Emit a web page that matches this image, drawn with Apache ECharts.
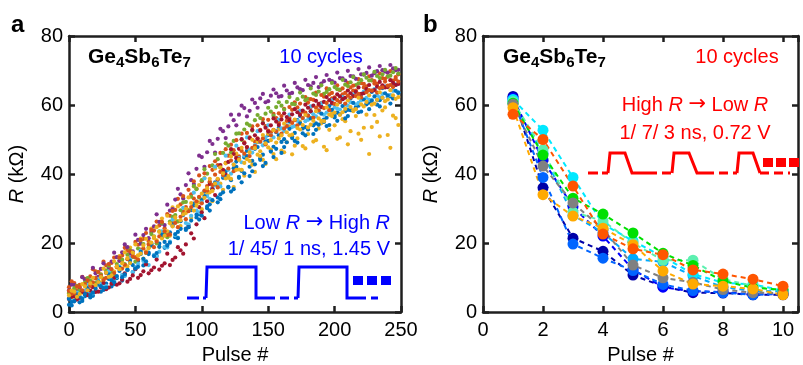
<!DOCTYPE html>
<html>
<head>
<meta charset="utf-8">
<script src="https://cdn.jsdelivr.net/npm/echarts@6.0.0/dist/echarts.min.js"></script>
<style>html,body{margin:0;padding:0;background:#fff;}#c{width:803px;height:365px;}</style>
</head>
<body>
<div id="c"></div>
<script>
// ---------- Panel a: Low R -> High R, 10 cycles ----------
// set "a" = pulses 0,4,8,...,248 ; set "b" = pulses 2,6,10,...,246
const pulseStepA = 4;
const cycleColorsA = ['#0072BD','#D95319','#EDB120','#7E2F8E','#77AC30','#4DBEEE','#A2142F','#0072BD','#D95319','#EDB120'];
const cycA1 = [2.1,3.4,2.8,4.6,4.2,6.1,5.9,8.2,7.4,9.8,9.1,12.3,11.6,14.8,13.5,17.2,16.4,19.8,18.6,23.1,21.7,26.3,24.2,29.5,27.4,32.6,30.1,35.8,33.2,38.9,36.1,41.7,39.2,44.8,42.1,47.3,44.6,49.5,46.8,52.1,49.3,53.8,50.9,55.6,53.2,56.9,54.1,58.4,55.8,59.7,56.9,60.8,58.2,61.9,59.4,63.1,60.2,63.8,61.5,64.9,62.3,65.4,63.6];
const cycA1b = [1.9,4.1,3.2,5.8,4.7,7.9,6.4,9.6,8.1,11.9,10.6,14.2,12.9,16.8,14.1,19.3,16.2,21.7,19.4,24.9,23.2,28.6,25.1,31.4,28.3,34.9,31.2,37.6,34.1,40.8,38.2,43.6,40.9,46.7,43.8,49.2,45.6,51.3,47.9,53.4,50.1,55.2,51.9,56.8,53.6,58.1,54.7,59.6,56.3,60.4,57.8,61.7,58.6,62.9,59.8,63.6,60.7,64.5,61.4,65.3,62.5,65.9];
const cycA2 = [7.2,8.4,7.9,9.6,10.3,11.8,10.9,13.5,14.2,13.1,16.4,17.8,16.9,19.5,21.2,20.4,23.6,25.1,24.3,27.9,29.6,31.2,30.4,34.1,35.8,37.9,36.5,41.2,42.6,40.8,45.3,46.9,45.1,49.2,50.6,49.4,52.8,53.9,52.1,56.2,56.8,55.4,58.6,59.3,58.1,60.7,61.5,59.9,62.4,63.1,62.2,64.3,63.5,65.1,64.2,66.3,65.4,67.2,66.1,67.8,68.3,67.1,68.9];
const cycA2b = [8.9,6.8,10.2,8.7,12.4,10.1,14.6,12.2,15.8,14.9,18.6,15.7,20.3,18.1,22.9,19.8,26.2,22.7,28.4,26.3,32.8,29.1,35.4,32.9,39.6,35.2,42.3,39.8,46.1,43.2,48.5,44.9,51.7,47.6,53.8,50.3,55.9,52.6,57.4,54.8,58.9,56.2,60.8,57.7,62.3,59.4,63.6,60.6,64.8,61.9,65.7,63.1,66.4,64.2,67.5,65.1,68.3,66.2,69.1,66.8,69.8,67.5];
const cycA3 = [5.4,4.6,6.8,5.9,8.2,9.7,8.6,11.3,10.4,12.9,14.8,13.2,17.1,16.3,15.5,19.8,21.4,18.9,23.6,22.1,26.4,24.9,28.7,27.3,31.5,29.8,34.2,32.1,36.7,35.4,38.9,36.2,41.3,39.5,43.8,40.6,45.2,42.9,47.1,44.3,46.8,49.2,45.7,50.3,48.1,51.6,49.4,53.2,47.9,52.8,54.1,50.6,55.3,52.4,56.8,49.9,57.2,53.6,55.1,58.4,51.3,56.9,54.2];
const cycA3b = [4.3,7.1,5.6,9.4,7.2,11.6,9.1,13.8,11.7,16.2,13.4,18.7,15.9,21.3,17.6,24.2,20.8,27.1,23.4,30.3,26.2,33.1,29.6,36.4,31.8,38.9,34.7,41.6,37.2,43.1,38.6,45.9,41.2,47.8,42.7,49.3,44.1,51.6,45.8,52.9,46.3,53.8,48.2,55.1,47.4,56.3,49.8,54.7,46.9,57.6,50.2,55.9,48.6,58.2,51.7,53.4,45.8,57.1,50.9,59.3,47.6,56.2];
const cycA4 = [6.3,7.8,7.1,9.4,8.6,11.2,12.5,11.4,14.6,15.9,17.3,18.8,17.6,20.9,22.3,21.4,24.8,26.1,25.2,29.4,32.6,34.1,36.8,38.2,41.5,44.9,46.3,48.7,50.2,52.4,53.8,55.6,57.2,59.1,58.3,60.6,61.9,60.8,62.7,63.4,62.6,64.2,63.5,65.1,64.3,65.8,66.4,65.2,66.9,67.3,66.5,67.8,67.1,68.4,67.6,68.9,69.3,68.5,69.8,70.1,69.4,70.6,70.2];
const cycA4b = [7.9,5.9,10.1,8.3,12.8,10.2,14.1,12.9,17.2,14.8,19.6,16.9,22.4,19.8,24.1,23.2,28.3,25.6,31.1,29.8,35.7,32.9,40.2,37.1,45.3,42.1,49.6,46.2,53.1,50.4,57.2,54.1,59.8,56.7,61.6,59.2,63.2,61.1,64.5,62.4,65.6,63.2,66.4,64.6,67.3,65.4,68.1,66.2,68.7,66.9,69.4,67.7,69.9,68.3,70.4,68.8,70.9,69.2,71.3,69.7,71.6,70.1];
const cycA5 = [5.6,6.9,6.2,8.5,9.1,8.4,10.8,12.1,11.3,13.9,15.2,16.6,15.9,18.4,19.7,18.8,21.9,23.4,22.6,26.2,28.1,29.5,31.9,33.4,35.6,38.2,40.1,42.5,44.3,46.1,48.2,49.6,51.8,52.9,54.1,55.6,56.2,57.5,58.1,59.4,59.8,60.9,60.3,61.7,62.4,61.8,63.3,63.9,63.2,64.6,65.2,64.5,65.9,66.6,65.8,67.2,67.9,67.1,68.4,68.9,68.2,69.5,69.1];
const cycA5b = [4.8,7.6,5.9,9.8,7.4,11.6,9.7,13.4,10.6,15.7,13.9,17.9,14.6,20.8,17.1,22.6,19.9,25.8,21.7,27.6,26.3,31.8,29.4,36.5,33.2,41.4,37.6,45.8,41.9,48.9,46.2,51.7,49.9,54.6,52.6,57.1,54.8,59.2,56.9,60.8,58.7,62.3,60.2,63.6,61.4,64.8,62.9,65.7,63.8,66.4,64.6,67.3,65.5,68.1,66.3,68.9,67.1,69.6,67.8,70.2,68.5,70.7];
const cycA6 = [3.9,4.8,4.3,6.2,5.6,7.4,8.1,7.6,9.3,10.2,10.8,12.1,11.6,13.9,14.8,13.6,16.4,17.5,18.9,20.4,22.3,24.1,25.8,27.9,29.4,31.8,33.6,35.9,37.4,39.5,41.2,42.8,44.6,45.3,47.1,48.4,49.2,50.6,51.3,52.5,53.2,54.1,53.6,55.4,56.2,55.7,57.3,57.9,57.2,58.6,59.3,58.7,60.1,60.8,60.2,61.4,62.1,61.5,62.8,63.2,62.6,64.1,63.7];
const cycA6b = [3.2,5.6,4.1,7.9,5.4,9.6,7.2,11.8,8.9,13.2,10.4,15.6,12.9,17.8,14.2,19.9,16.1,23.4,18.7,26.8,21.6,30.2,25.4,34.6,28.9,38.7,32.8,42.1,36.4,45.3,40.1,48.2,43.4,50.6,46.2,52.4,48.3,54.1,50.6,55.8,52.4,57.2,53.9,58.4,55.3,59.6,56.7,60.5,57.8,61.4,58.9,62.3,59.8,63.1,60.6,63.9,61.5,64.6,62.2,65.2,62.9,65.8];
const cycA7 = [3.8,4.6,4.1,5.3,6.2,5.8,7.1,6.6,8.2,7.9,9.4,8.8,10.6,9.9,11.8,11.2,12.9,12.3,14.1,13.6,15.8,17.9,19.6,22.8,25.4,28.9,32.1,35.6,38.4,41.2,43.5,45.8,47.3,48.9,50.4,51.2,52.6,53.4,54.1,55.2,55.8,56.5,57.3,57.9,58.4,59.2,59.8,60.3,60.9,61.4,61.9,62.5,62.1,63.4,63.8,63.2,64.6,64.1,65.3,65.7,65.2,66.4,66.1];
const cycA7b = [4.4,3.6,5.8,4.9,7.2,5.9,8.4,7.1,9.9,8.3,11.2,9.6,12.4,10.7,13.8,12.1,15.2,13.4,16.9,15.1,18.8,16.9,24.6,21.3,30.4,27.2,37.1,33.9,42.6,39.8,47.2,44.6,50.1,47.8,52.8,50.2,54.7,52.3,56.1,54.2,57.6,55.6,58.8,57.1,60.1,58.2,61.2,59.4,62.3,60.6,63.1,61.7,64.2,62.6,65.1,63.4,65.8,64.3,66.7,65.1,67.2,65.8];
const cycA8 = [3.8,3.1,4.5,5.2,4.9,6.8,7.5,7.1,9.2,10.4,10.1,12.2,13.6,13.1,15.4,16.8,16.2,18.9,20.3,20.1,22.6,24.1,23.8,26.5,28.2,27.9,30.6,32.4,31.8,34.7,36.3,35.6,38.9,40.2,39.4,42.8,44.1,43.2,46.5,47.3,46.1,49.2,50.4,49.1,51.8,52.9,51.6,54.3,55.1,54.2,56.4,57.3,56.1,58.5,59.2,58.1,60.3,61.2,60.1,62.1,62.8,61.9,63.5];
const cycA8b = [2.9,5.1,3.8,6.9,5.6,8.8,6.9,10.9,8.6,12.9,10.9,14.8,12.6,17.4,14.7,19.6,17.1,22.4,19.2,25.3,21.4,28.1,24.6,30.9,26.8,33.6,29.4,36.9,32.7,39.1,34.9,42.1,37.6,45.2,40.8,47.8,42.3,49.6,44.9,51.2,47.8,53.1,49.6,54.7,51.2,56.1,52.8,57.5,53.9,58.6,55.4,59.7,56.8,60.6,57.9,61.6,58.8,62.5,59.6,63.4,60.4,64.1];
const cycA9 = [6.1,5.4,7.3,8.1,7.6,9.8,10.5,9.9,12.4,13.1,12.6,15.3,16.1,15.2,18.4,19.6,18.8,21.9,23.4,22.5,25.8,27.6,26.9,30.4,32.1,31.5,35.2,36.8,36.1,39.7,41.6,40.8,44.3,45.9,45.2,48.1,49.4,48.6,51.2,52.3,51.7,53.9,54.8,54.1,56.2,56.9,56.3,58.4,59.1,58.5,60.3,60.9,60.4,62.1,62.6,62.2,63.7,64.2,63.6,65.1,65.6,65.2,66.8];
const cycA9b = [5.2,7.4,6.3,9.2,8.6,11.6,9.4,13.9,11.3,15.8,13.7,17.6,15.8,20.9,17.2,23.8,20.4,26.1,22.3,29.3,24.6,33.6,29.2,37.9,33.4,40.2,37.8,43.7,40.6,47.2,43.9,49.8,46.7,51.9,47.6,54.1,50.3,55.7,52.8,57.6,53.2,59.4,55.6,60.4,57.8,61.7,59.2,62.9,60.6,63.5,61.4,64.8,62.7,65.6,63.2,66.1,64.3,66.9,64.9,67.6,65.8,68.1];
const cycA10 = [4.8,5.9,5.2,7.4,8.3,7.8,10.1,11.4,10.6,13.2,14.1,15.6,17.2,16.4,19.3,18.5,21.8,23.2,22.1,25.7,27.4,26.6,29.9,31.6,30.8,34.3,35.9,35.1,38.6,40.2,39.4,42.7,44.1,43.2,46.3,47.5,46.6,48.9,49.8,49.1,51.2,52.1,51.4,53.3,54.2,53.5,55.4,56.1,55.3,57.2,57.8,57.1,58.9,59.4,58.8,60.2,60.9,60.1,61.5,62.1,61.6,62.8,62.3];
const cycA10b = [6.2,4.4,8.1,6.3,9.9,8.7,12.6,10.2,14.7,12.4,17.3,14.2,19.6,16.9,21.2,20.1,24.6,21.3,27.9,24.8,30.6,28.3,33.2,29.4,36.8,33.1,38.6,37.2,41.9,38.7,45.1,41.2,47.6,44.3,49.9,45.6,51.3,47.7,52.7,50.3,54.6,51.2,55.8,52.9,57.1,54.3,58.2,55.4,59.3,56.8,60.1,57.9,61.3,58.5,62.1,59.6,62.8,60.4,63.7,61.1,64.3,61.8];
const cyclesA = [cycA1,cycA2,cycA3,cycA4,cycA5,cycA6,cycA7,cycA8,cycA9,cycA10];
const cyclesAb = [cycA1b,cycA2b,cycA3b,cycA4b,cycA5b,cycA6b,cycA7b,cycA8b,cycA9b,cycA10b];

// ---------- Panel b: High R -> Low R, 10 cycles ----------
const pulsesB = [1,2,3,4,5,6,7,8,9,10];
const cycleColorsB = ['#0000A8','#0000FF','#0064FF','#00AAFF','#00E8FF','#5CF0B0','#00E000','#808080','#FFAA00','#FF5500'];
const cycB1 = [62.5,36.0,21.4,17.6,10.7,7.4,5.6,5.5,5.0,5.0];
const cycB2 = [62.0,44.0,30.5,22.0,12.3,7.2,6.0,5.8,5.1,5.2];
const cycB3 = [61.5,39.0,19.7,15.6,12.0,8.0,6.2,5.6,5.0,5.3];
const cycB4 = [61.0,46.0,28.0,23.0,15.4,14.5,10.5,7.2,6.1,6.0];
const cycB5 = [61.6,52.7,39.0,25.5,20.6,16.0,11.0,8.5,8.0,6.2];
const cycB6 = [61.0,47.0,29.0,26.4,20.0,15.0,15.0,9.5,7.6,6.0];
const cycB7 = [60.5,45.5,33.0,28.4,22.9,17.0,13.5,9.0,7.0,6.5];
const cycB8 = [60.2,42.3,31.6,24.0,13.6,9.9,8.6,6.5,5.6,5.5];
const cycB9 = [59.2,34.0,27.8,24.3,19.5,11.9,8.1,7.5,6.7,5.0];
const cycB10 = [57.3,50.0,36.5,22.6,18.3,16.6,12.2,11.0,9.5,7.5];
const cyclesB = [cycB1,cycB2,cycB3,cycB4,cycB5,cycB6,cycB7,cycB8,cycB9,cycB10];

// ---------- tick labels ----------
const xTicksA = [0,50,100,150,200,250];
const xTicksB = [0,2,4,6,8,10];
const yTicks = [0,20,40,60,80];

// ---------- chart ----------
const FF = '"Liberation Sans", Arial, Helvetica, sans-serif';
const AF = '"DejaVu Sans", sans-serif';
const AX = '#1f1f1f';
const chart = echarts.init(document.getElementById('c'), null, {renderer:'canvas'});

function xAx(grid, min, max, interval, ticks, pos, show) {
  return {
    gridIndex: grid, type: 'value', min: min, max: max, interval: interval, position: pos,
    axisLine: {show: true, onZero: false, lineStyle: {color: AX, width: 2.5}},
    axisTick: {show: true, inside: true, length: 6, lineStyle: {color: AX, width: 2.5}},
    axisLabel: {show: show, margin: 8, color: '#000', fontSize: 20, fontFamily: FF,
      formatter: v => ticks.indexOf(v) >= 0 ? String(v) : ''},
    splitLine: {show: false},
    name: show ? 'Pulse #' : '', nameLocation: 'middle', nameGap: 33,
    nameTextStyle: {color: '#000', fontSize: 20, fontFamily: FF}
  };
}
function yAx(grid, pos, show) {
  return {
    gridIndex: grid, type: 'value', min: 0, max: 80, interval: 20, position: pos,
    axisLine: {show: true, onZero: false, lineStyle: {color: AX, width: 2.5}},
    axisTick: {show: true, inside: true, length: 6, lineStyle: {color: AX, width: 2.5}},
    axisLabel: {show: show, margin: 6, color: '#000', fontSize: 20, fontFamily: FF,
      formatter: v => yTicks.indexOf(v) >= 0 ? String(v) : ''},
    splitLine: {show: false},
    name: show ? '{i|R} (kΩ)' : '', nameLocation: 'middle', nameGap: 42,
    nameTextStyle: {color: '#000', fontSize: 20, fontFamily: FF,
      rich: {i: {fontStyle: 'italic', fontSize: 20, fontFamily: FF, color: '#000'}}}
  };
}

const series = [];
cyclesA.forEach((arr, k) => {
  const pts = arr.map((v, i) => [i * pulseStepA, v])
    .concat(cyclesAb[k].map((v, i) => [i * pulseStepA + pulseStepA / 2, v]));
  series.push({
    type: 'scatter', xAxisIndex: 0, yAxisIndex: 0, symbol: 'circle', symbolSize: 4.2,
    itemStyle: {color: cycleColorsA[k], opacity: 1},
    data: pts, silent: true, animation: false
  });
});
cyclesB.forEach((arr, k) => {
  series.push({
    type: 'line', xAxisIndex: 2, yAxisIndex: 2, symbol: 'circle', symbolSize: 11,
    lineStyle: {color: cycleColorsB[k], width: 2, type: [5, 4]},
    itemStyle: {color: cycleColorsB[k]},
    data: arr.map((v, i) => [pulsesB[i], v]), silent: true, animation: false
  });
});

const BLUE = '#0000FF', RED = '#FF0000';
const subRich = {
  m: {fontSize: 21, fontWeight: 'bold', fontFamily: FF, lineHeight: 26, color: '#000'},
  s: {fontSize: 15, fontWeight: 'bold', fontFamily: FF, lineHeight: 12, verticalAlign: 'bottom', color: '#000'}
};
const geText = '{m|Ge}{s|4}{m|Sb}{s|6}{m|Te}{s|7}';
function txt(x, y, text, color, align) {
  return {type: 'text', x: x, y: y, z: 100,
    style: {text: text, fill: color, font: '20px ' + FF, align: align, verticalAlign: 'middle',
      rich: {n: {fontSize: 20, fontFamily: FF, color: color},
             i: {fontSize: 20, fontFamily: FF, fontStyle: 'italic', color: color},
             a: {fontSize: 21, fontFamily: AF, color: color}}}};
}
function pl(points, color, dash) {
  return {type: 'polyline', z: 100, shape: {points: points},
    style: {stroke: color, lineWidth: 3, fill: null, lineDash: dash || null}};
}
function rc(x, y, w, h, color) {
  return {type: 'rect', z: 100, shape: {x: x, y: y, width: w, height: h}, style: {fill: color}};
}

const graphics = [
  {type: 'text', x: 11, y: 25, z: 100, style: {text: 'a', font: 'bold 24px ' + FF, fill: '#000', verticalAlign: 'middle'}},
  {type: 'text', x: 423, y: 25, z: 100, style: {text: 'b', font: 'bold 24px ' + FF, fill: '#000', verticalAlign: 'middle'}},
  {type: 'text', x: 88, y: 44, z: 100, style: {text: geText, rich: subRich}},
  {type: 'text', x: 503, y: 44, z: 100, style: {text: geText, rich: subRich}},
  txt(321, 57, '10 cycles', BLUE, 'center'),
  txt(390, 223, '{n|Low }{i|R}{n| }{a|→}{n| High }{i|R}', BLUE, 'right'),
  txt(390, 249, '1/ 45/ 1 ns, 1.45 V', BLUE, 'right'),
  txt(737, 57, '10 cycles', RED, 'center'),
  txt(695, 105, '{n|High }{i|R}{n| }{a|→}{n| Low }{i|R}', RED, 'center'),
  txt(695, 133, '1/ 7/ 3 ns, 0.72 V', RED, 'center'),
  // panel a pulse sketch
  pl([[187, 298], [206, 298]], BLUE, [12, 4]),
  pl([[206, 298], [207, 267], [256, 267], [256, 298], [266, 298]], BLUE),
  pl([[266, 298], [298, 298]], BLUE, [9, 5]),
  pl([[298, 298], [299, 267], [347, 267], [347, 298], [357, 298]], BLUE),
  pl([[357, 298], [378, 298]], BLUE, [9, 5]),
  rc(353, 276, 10, 9, BLUE), rc(367, 276, 10, 9, BLUE), rc(381, 276, 10, 9, BLUE),
  // panel b pulse sketch
  pl([[588, 173], [608, 173]], RED, [10, 4]),
  pl([[608, 173], [610, 153], [625, 153], [632, 173], [648, 173]], RED),
  pl([[648, 173], [672, 173]], RED, [9, 5]),
  pl([[672, 173], [674, 153], [689, 153], [697, 173], [705, 173]], RED),
  pl([[705, 173], [737, 173]], RED, [9, 5]),
  pl([[737, 173], [739, 153], [753, 153], [760, 173]], RED),
  pl([[760, 173], [790, 173]], RED, [9, 5]),
  rc(763, 158, 10, 9, RED), rc(776, 158, 10, 9, RED), rc(789, 158, 10, 9, RED)
];

chart.setOption({
  animation: false,
  backgroundColor: '#fff',
  grid: [
    {left: 69, top: 36, width: 332, height: 276, containLabel: false, outerBoundsMode: 'none'},
    {left: 483, top: 36, width: 315, height: 276, containLabel: false, outerBoundsMode: 'none'}
  ],
  xAxis: [
    xAx(0, 0, 250, 50, xTicksA, 'bottom', true),
    xAx(0, 0, 250, 50, xTicksA, 'top', false),
    xAx(1, 0, 10.5, 2, xTicksB, 'bottom', true),
    xAx(1, 0, 10.5, 2, xTicksB, 'top', false)
  ],
  yAxis: [
    yAx(0, 'left', true),
    yAx(0, 'right', false),
    yAx(1, 'left', true),
    yAx(1, 'right', false)
  ],
  series: series,
  graphic: graphics
});
</script>
</body>
</html>
